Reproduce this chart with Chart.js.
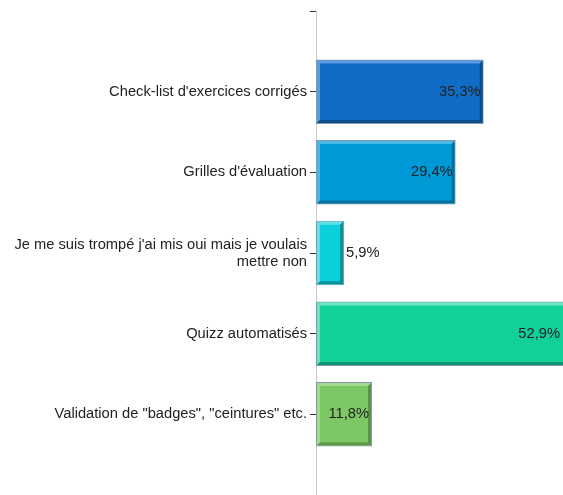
<!DOCTYPE html>
<html>
<head>
<meta charset="utf-8">
<script src="https://cdn.jsdelivr.net/npm/chart.js@4/dist/chart.umd.min.js"></script>
<style>
  html, body { margin: 0; padding: 0; background: #fff; }
  #wrap { width: 563px; height: 495px; position: relative; }
</style>
</head>
<body>
<div id="wrap"><canvas id="chart"></canvas></div>
<script>
const categories = [
  "Check-list d'exercices corrigés",
  "Grilles d'évaluation",
  ["Je me suis trompé j'ai mis oui mais je voulais", "mettre non"],
  "Quizz automatisés",
  "Validation de \"badges\", \"ceintures\" etc."
];
const percents = [35.3, 29.4, 5.9, 52.9, 11.8];

const fillColors = ['#0f6dc6', '#0099d8', '#0ccfdc', '#12d09a', '#7cc864'];
const lightColors = ['#5b9be0', '#4cb8e8', '#62e0e8', '#6fe2c0', '#a3da92'];
const darkColors = ['#0b4f8f', '#00709e', '#08939c', '#0c9470', '#5a9448'];

const FONT = '"Liberation Sans", Arial, sans-serif';
const FSIZE = 14.7;

function fmt(v) {
  return v.toFixed(1).replace('.', ',') + '%';
}

// bevelled 3D look + value labels
const bevelPlugin = {
  id: 'bevel',
  afterDatasetsDraw(chart) {
    const ctx = chart.ctx;
    const area = chart.chartArea;
    const meta = chart.getDatasetMeta(0);
    const b = 3;
    ctx.save();
    ctx.beginPath();
    ctx.rect(area.left, area.top, area.right - area.left, area.bottom - area.top);
    ctx.clip();
    meta.data.forEach((bar, i) => {
      const l = bar.base + 1, r = bar.x - 1;
      const t = bar.y - bar.height / 2 + 1, bt = bar.y + bar.height / 2 - 1;
      ctx.fillStyle = lightColors[i];
      ctx.beginPath();
      ctx.moveTo(l, bt); ctx.lineTo(l, t); ctx.lineTo(r, t);
      ctx.lineTo(r - b, t + b); ctx.lineTo(l + b, t + b); ctx.lineTo(l + b, bt - b);
      ctx.closePath(); ctx.fill();
      ctx.fillStyle = darkColors[i];
      ctx.beginPath();
      ctx.moveTo(r, t); ctx.lineTo(r, bt); ctx.lineTo(l, bt);
      ctx.lineTo(l + b, bt - b); ctx.lineTo(r - b, bt - b); ctx.lineTo(r - b, t + b);
      ctx.closePath(); ctx.fill();
    });
    ctx.restore();

    ctx.save();
    ctx.font = FSIZE + 'px ' + FONT;
    ctx.fillStyle = '#222';
    ctx.textBaseline = 'middle';
    meta.data.forEach((bar, i) => {
      const txt = fmt(percents[i]);
      const w = ctx.measureText(txt).width;
      const end = Math.min(bar.x, area.right);
      if (end - bar.base > w + 8) {
        ctx.textAlign = 'right';
        ctx.fillText(txt, end - 3, bar.y);
      } else {
        ctx.textAlign = 'left';
        ctx.fillText(txt, end + 2, bar.y);
      }
    });
    ctx.restore();
  }
};

new Chart(document.getElementById('chart'), {
  type: 'bar',
  data: {
    datasets: [{
      data: percents.map((v, i) => ({ x: v, y: i })),
      backgroundColor: fillColors,
      borderColor: '#8797ab',
      borderWidth: 1,
      borderSkipped: false,
      barPercentage: 1,
      categoryPercentage: 0.8
    }]
  },
  options: {
    indexAxis: 'y',
    responsive: true,
    maintainAspectRatio: false,
    animation: false,
    layout: { padding: { top: 11, left: 0, right: 0, bottom: 0 } },
    plugins: { legend: { display: false }, tooltip: { enabled: false } },
    scales: {
      x: { type: 'linear', display: false, min: 0, max: 52 },
      y: {
        type: 'linear',
        reverse: true,
        offset: false,
        min: -1,
        max: 5,
        afterFit(scale) {
          scale.width = 316;
          scale.paddingTop = 0;
          scale.paddingBottom = 0;
        },
        border: { color: '#cccccc', width: 1 },
        grid: { offset: false, drawOnChartArea: false, color: '#333', tickLength: 6 },
        ticks: {
          stepSize: 1,
          autoSkip: false,
          padding: 3,
          color: '#222',
          font: { family: FONT, size: FSIZE, lineHeight: 1.15 },
          callback: (v) => categories[v] !== undefined ? categories[v] : ''
        }
      }
    }
  },
  plugins: [bevelPlugin]
});
</script>
</body>
</html>
